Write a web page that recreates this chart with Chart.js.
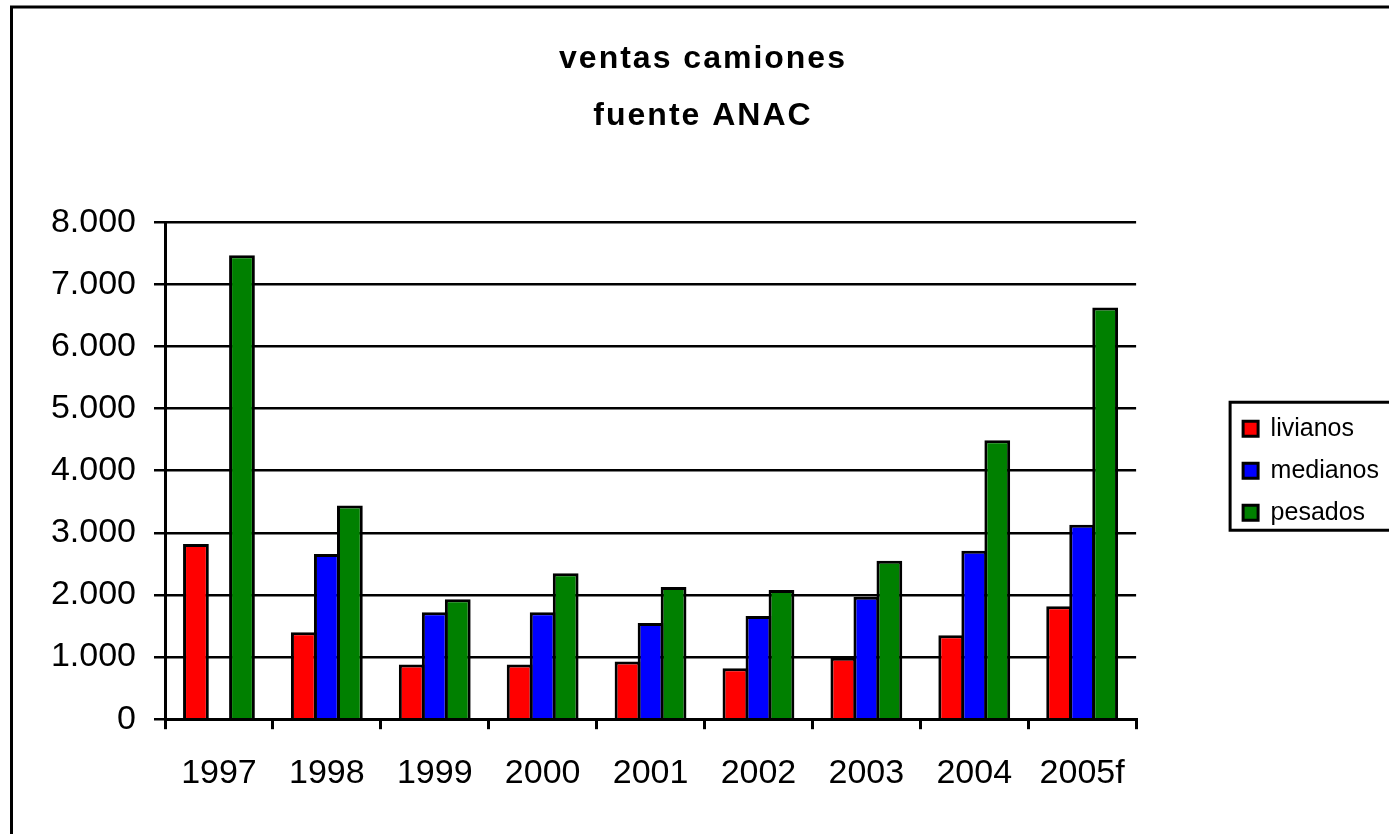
<!DOCTYPE html>
<html><head><meta charset="utf-8">
<script src="https://cdn.jsdelivr.net/npm/chart.js@4"></script>
<style>html,body{margin:0;padding:0;background:#fff;overflow:hidden}</style>
</head><body>
<canvas id="c" width="1389" height="834"></canvas>
<script>
const categories = ['1997','1998','1999','2000','2001','2002','2003','2004','2005f'];
const livianos = [2820, 1400, 880, 880, 930, 820, 990, 1350, 1820];
const medianos = [null, 2660, 1720, 1720, 1550, 1660, 1970, 2710, 3130];
const pesados  = [7470, 3440, 1930, 2350, 2130, 2080, 2550, 4490, 6630];
const seriesNames = ['livianos', 'medianos', 'pesados'];
const seriesColors = ['#FF0000', '#0000FF', '#008000'];
const yTicks = [0, 1000, 2000, 3000, 4000, 5000, 6000, 7000, 8000];
const titleLines = ['ventas camiones', 'fuente ANAC'];

const FONT = "'Liberation Sans', Arial, sans-serif";

const framePlugin = {
  id: 'frame',
  beforeDraw(chart) {
    const ctx = chart.ctx;
    ctx.save();
    ctx.fillStyle = '#fff';
    ctx.fillRect(0, 0, chart.width, chart.height);
    ctx.strokeStyle = '#000';
    ctx.lineWidth = 3;
    ctx.beginPath();
    ctx.moveTo(11.5, chart.height + 5);
    ctx.lineTo(11.5, 7);
    ctx.lineTo(chart.width + 5, 7);
    ctx.stroke();
    ctx.restore();
    const tb = chart.titleBlock;
    if (tb && !tb._spaced) {
      const orig = tb.draw.bind(tb);
      tb.draw = function (area) {
        const c = this.ctx;
        c.save();
        c.letterSpacing = '2px';
        orig(area);
        c.restore();
      };
      tb._spaced = true;
    }
  },
  afterDraw(chart) {
    const lg = chart.legend;
    if (!lg || !lg.legendHitBoxes || !lg.legendHitBoxes.length) return;
    const hb = lg.legendHitBoxes;
    const first = hb[0], last = hb[hb.length - 1];
    const ctx = chart.ctx;
    ctx.save();
    ctx.strokeStyle = '#000';
    ctx.lineWidth = 3;
    const x = first.left - 13;
    const y = first.top - 14;
    const b = last.top + last.height + 5;
    ctx.strokeRect(x, y, chart.width + 10 - x, b - y);
    ctx.restore();
  }
};

new Chart(document.getElementById('c'), {
  type: 'bar',
  data: {
    labels: categories,
    datasets: [livianos, medianos, pesados].map((d, i) => ({
      label: seriesNames[i],
      data: d,
      backgroundColor: seriesColors[i],
      borderColor: '#000',
      borderWidth: 3,
      categoryPercentage: 0.64,
      barPercentage: 1.12
    }))
  },
  options: {
    responsive: false,
    animation: false,
    events: [],
    layout: { padding: { top: 0, left: 17, right: 0, bottom: 16 } },
    plugins: {
      tooltip: { enabled: false },
      title: {
        display: true,
        text: titleLines,
        color: '#000',
        font: { family: FONT, size: 32, weight: 'bold', lineHeight: 1.77 },
        padding: { top: 31, bottom: 78 }
      },
      legend: {
        display: true,
        position: 'right',
        fullSize: false,
        labels: {
          color: '#000',
          font: { family: FONT, size: 25 },
          boxWidth: 15,
          boxHeight: 15,
          padding: 17
        }
      }
    },
    scales: {
      x: {
        grid: { display: true, drawOnChartArea: false, drawTicks: true, tickLength: 10, color: '#000', lineWidth: 3, offset: true },
        border: { display: true, color: '#000', width: 3 },
        ticks: { color: '#000', font: { family: FONT, size: 34 }, padding: 24, maxRotation: 0, autoSkip: false }
      },
      y: {
        min: 0, max: 8000,
        afterBuildTicks: (axis) => { axis.ticks = yTicks.map(v => ({ value: v })); },
        afterFit: (axis) => { axis.width = 148; },
        grid: { color: '#000', lineWidth: 2.5, tickLength: 11, drawTicks: true },
        border: { display: true, color: '#000', width: 3 },
        ticks: {
          color: '#000',
          font: { family: FONT, size: 34 },
          padding: 18,
          callback: (v) => Number(v).toLocaleString('de-DE')
        }
      },
      gap: {
        position: 'right',
        display: true,
        grid: { display: false },
        border: { display: false },
        ticks: { display: false },
        afterFit: (axis) => { axis.width = 90; }
      }
    }
  },
  plugins: [framePlugin]
});
</script>
</body></html>
